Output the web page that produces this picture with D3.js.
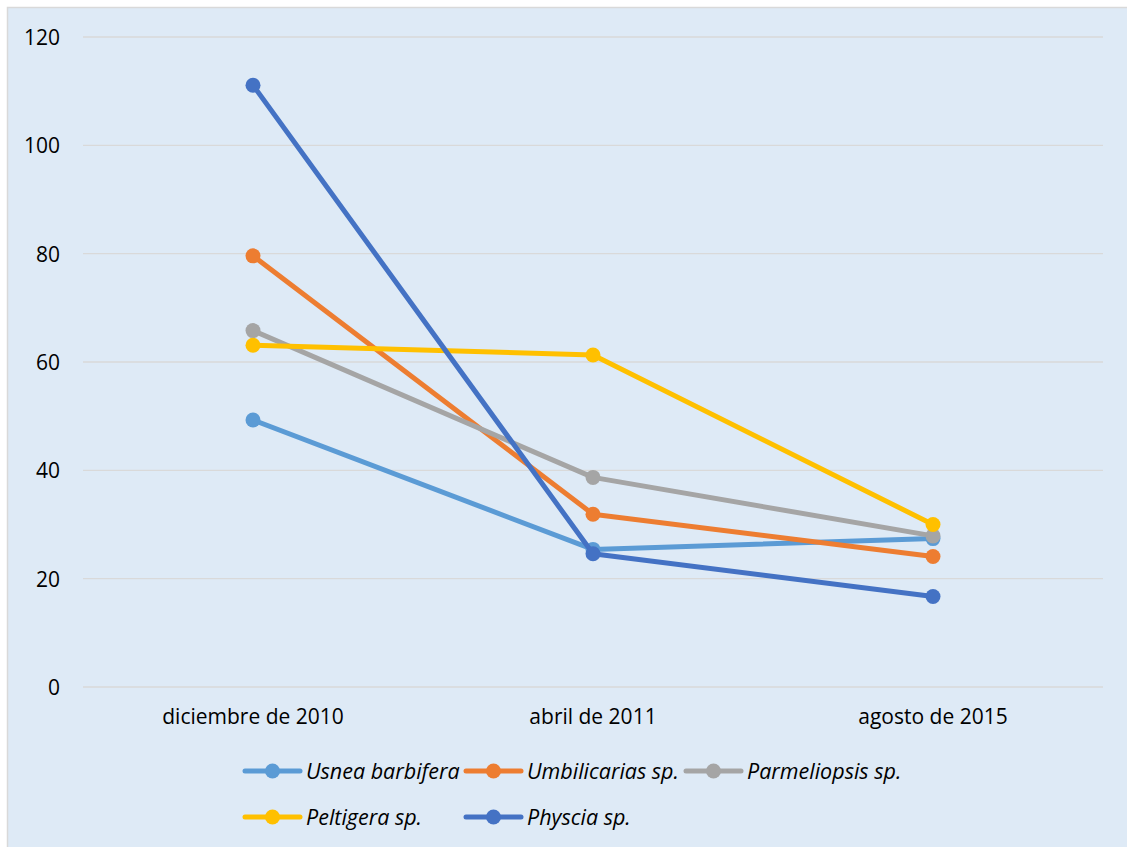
<!DOCTYPE html>
<html>
<head>
<meta charset="utf-8">
<script src="https://cdn.jsdelivr.net/npm/d3@7/dist/d3.min.js"></script>
<style>
  html, body { margin: 0; padding: 0; background: #fff; }
  svg { display: block; }
  text { font-family: "Open Sans", "Noto Sans", sans-serif; fill: #000; }
</style>
</head>
<body>
<svg id="chart" width="1127" height="847"></svg>
<script>
const categories = ["diciembre de 2010", "abril de 2011", "agosto de 2015"];
const seriesNames = ["Usnea barbifera", "Umbilicarias sp.", "Parmeliopsis sp.", "Peltigera sp.", "Physcia sp."];
const usnea = [49.3, 25.4, 27.4];
const umbilicarias = [79.6, 31.9, 24.1];
const parmeliopsis = [65.8, 38.7, 27.9];
const peltigera = [63.1, 61.3, 30.0];
const physcia = [111.1, 24.6, 16.7];
const yTicks = [0, 20, 40, 60, 80, 100, 120];
const colors = ["#5B9BD5", "#ED7D31", "#A5A5A5", "#FFC000", "#4472C4"];

const series = [usnea, umbilicarias, parmeliopsis, peltigera, physcia].map((v, i) => ({
  name: seriesNames[i], values: v, color: colors[i]
}));

const svg = d3.select("#chart");

// chart area background and frame
svg.append("rect")
  .attr("x", 7.5).attr("y", 7.5).attr("width", 1130).attr("height", 850)
  .attr("fill", "#DEEAF6").attr("stroke", "#D9D9D9").attr("stroke-width", 1.5);

const plot = { left: 83, right: 1103, top: 37, bottom: 687 };

const x = d3.scaleBand().domain(categories).range([plot.left, plot.right]).padding(0);
const y = d3.scaleLinear().domain([0, 120]).range([plot.bottom, plot.top]);

// horizontal gridlines
svg.append("g").selectAll("line").data(yTicks).join("line")
  .attr("x1", plot.left).attr("x2", plot.right)
  .attr("y1", d => y(d)).attr("y2", d => y(d))
  .attr("stroke", "#D9D9D9").attr("stroke-width", 1.3);

// y-axis labels
const yAxis = d3.axisLeft(y).tickValues(yTicks).tickSize(0).tickPadding(0);
const gy = svg.append("g").attr("transform", "translate(60,0)").call(yAxis);
gy.select(".domain").remove();
gy.selectAll("text").attr("font-size", 21).attr("font-family", "'Open Sans', sans-serif")
  .attr("fill", "#000").attr("dy", "0.35em");

// x-axis labels
const xAxis = d3.axisBottom(x).tickSize(0).tickPadding(0);
const gx = svg.append("g").attr("transform", `translate(0,${plot.bottom + 30})`).call(xAxis);
gx.select(".domain").remove();
gx.selectAll("text").attr("font-size", 21).attr("font-family", "'Open Sans', sans-serif")
  .attr("fill", "#000").attr("dy", "0.35em");

const cx = d => x(d) + x.bandwidth() / 2;
const line = d3.line().x((d, i) => cx(categories[i])).y(d => y(d));

// series lines and markers
const gs = svg.append("g").selectAll("g").data(series).join("g");
gs.append("path")
  .attr("d", d => line(d.values))
  .attr("fill", "none")
  .attr("stroke", d => d.color)
  .attr("stroke-width", 5)
  .attr("stroke-linejoin", "round");
gs.selectAll("circle").data(d => d.values.map((v, i) => ({ v, i, color: d.color }))).join("circle")
  .attr("cx", d => cx(categories[d.i]))
  .attr("cy", d => y(d.v))
  .attr("r", 7.5)
  .attr("fill", d => d.color);

// legend
const legendPos = [
  { x: 245, y: 771 }, { x: 466, y: 771 }, { x: 686, y: 771 },
  { x: 245, y: 817 }, { x: 466, y: 817 }
];
const lg = svg.append("g").selectAll("g").data(series).join("g")
  .attr("transform", (d, i) => `translate(${legendPos[i].x},${legendPos[i].y})`);
lg.append("line").attr("x1", 0).attr("x2", 55).attr("y1", 0).attr("y2", 0)
  .attr("stroke", d => d.color).attr("stroke-width", 5).attr("stroke-linecap", "round");
lg.append("circle").attr("cx", 27.5).attr("cy", 0).attr("r", 7.5).attr("fill", d => d.color);
lg.append("text").attr("x", 61).attr("y", 0).attr("dy", "0.35em")
  .attr("font-size", 21.5).attr("font-style", "italic")
  .text(d => d.name);
</script>
</body>
</html>
